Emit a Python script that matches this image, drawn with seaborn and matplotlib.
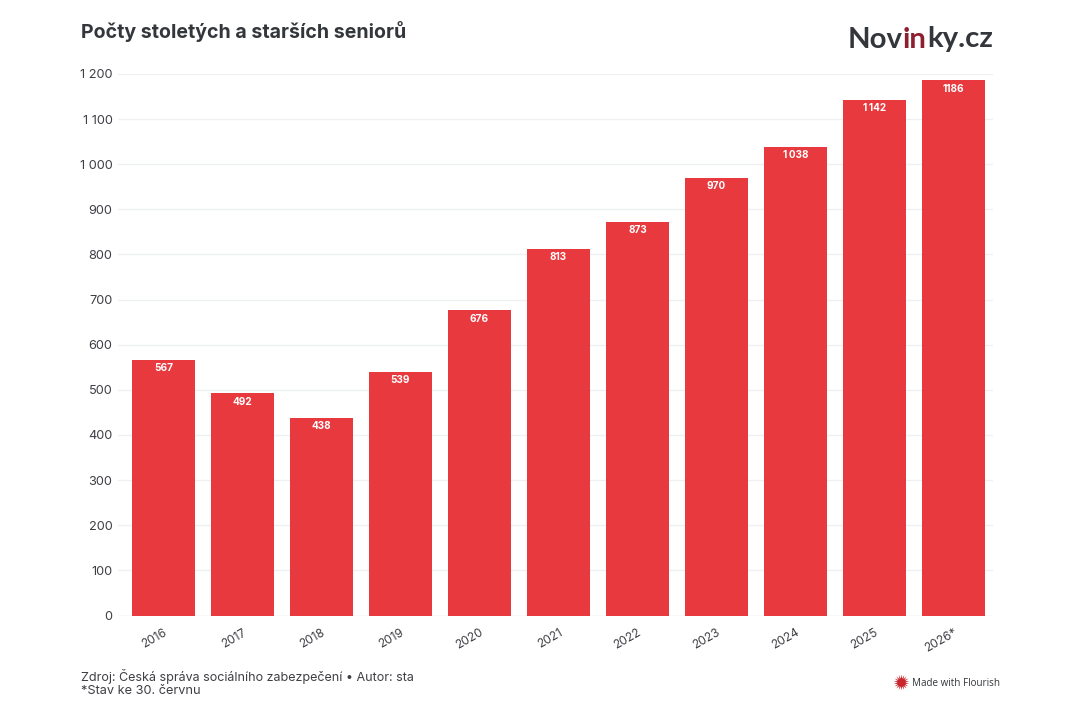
import matplotlib
matplotlib.use('Agg')
import matplotlib.pyplot as plt
import seaborn as sns
import pandas as pd

# Data
years = ['2016', '2017', '2018', '2019', '2020', '2021', '2022', '2023', '2024', '2025', '2026*']
counts = [567, 492, 438, 539, 676, 813, 873, 970, 1038, 1142, 1186]
bar_labels = ['567', '492', '438', '539', '676', '813', '873', '970', '1\u2009038', '1\u2009142', '1186']
y_ticks = [0, 100, 200, 300, 400, 500, 600, 700, 800, 900, 1000, 1100, 1200]
y_tick_labels = ['0', '100', '200', '300', '400', '500', '600', '700', '800', '900', '1 000', '1 100', '1 200']

df = pd.DataFrame({'rok': years, 'pocet': counts})

sns.set_theme(style='white')
plt.rcParams['font.family'] = ['Inter', 'DejaVu Sans']

TEXT = '#3f3f46'
RED = '#e8393e'

fig = plt.figure(figsize=(10.8, 7.2), dpi=100)
ax = fig.add_axes([118 / 1080, 1 - 615.5 / 720, 875 / 1080, 541.5 / 720])

sns.barplot(data=df, x='rok', y='pocet', color=RED, saturation=1, width=0.8, linewidth=0,
            ax=ax, zorder=3)
ax.bar_label(ax.containers[0], labels=bar_labels, padding=-9.5, color='white',
             fontsize=7.2, fontweight='bold', zorder=4)

ax.set_xlim(-0.576, 10.5)
ax.set_ylim(0, 1200)
ax.set_yticks(y_ticks, y_tick_labels)
ax.set_xlabel('')
ax.set_ylabel('')
ax.grid(axis='y', color='#eef0f1', linewidth=1, zorder=0)
sns.despine(ax=ax, left=True, top=True, right=True, bottom=True)
ax.axhline(0, color='#e8e9ea', linewidth=1, zorder=1)

ax.tick_params(axis='y', length=0, pad=4, labelsize=9.2, labelcolor=TEXT)
ax.tick_params(axis='x', length=5, width=0.8, color='#e8e9ea', pad=3, labelsize=8.6, labelcolor=TEXT)
plt.setp(ax.get_xticklabels(), rotation=30, ha='right', rotation_mode='anchor', va='top')

# Title and footer
fig.text(81 / 1080, 1 - 32 / 720, 'Počty stoletých a starších seniorů', fontsize=14.1,
         fontweight='bold', color='#33363a', va='center', ha='left')
fig.text(81 / 1080, 1 - 676.5 / 720, 'Zdroj: Česká správa sociálního zabezpečení • Autor: sta',
         fontsize=9.05, color=TEXT, va='center', ha='left')
fig.text(81 / 1080, 1 - 691.5 / 720, '*Stav ke 30. červnu', fontsize=9.2, color=TEXT,
         va='center', ha='left')

# Logo, three pieces placed one after the other
renderer = fig.canvas.get_renderer()
x_px = 848
for part, col in [('Nov', '#33373b'), ('in', '#8e1f31'), ('ky.cz', '#33373b')]:
    t = fig.text(x_px / 1080, 1 - 47.5 / 720, part, fontsize=21.2, fontweight='bold',
                 family=['Lato', 'DejaVu Sans'], color=col, va='baseline', ha='left')
    x_px += t.get_window_extent(renderer).width

# Flourish badge
badge = fig.add_axes([892 / 1080, 1 - 691 / 720, 18 / 1080, 18 / 720])
badge.axis('off')
badge.set_xlim(-1, 1)
badge.set_ylim(-1, 1)
badge.scatter([0], [0], marker=(18, 1, 0), s=130, color='#c8262c', linewidths=0)
fig.text(912 / 1080, 1 - 683 / 720, 'Made with Flourish', fontsize=7.1, color='#33363a',
         family=['Open Sans', 'DejaVu Sans'], va='center', ha='left')

fig.savefig('out.png', dpi=100, facecolor='white')
